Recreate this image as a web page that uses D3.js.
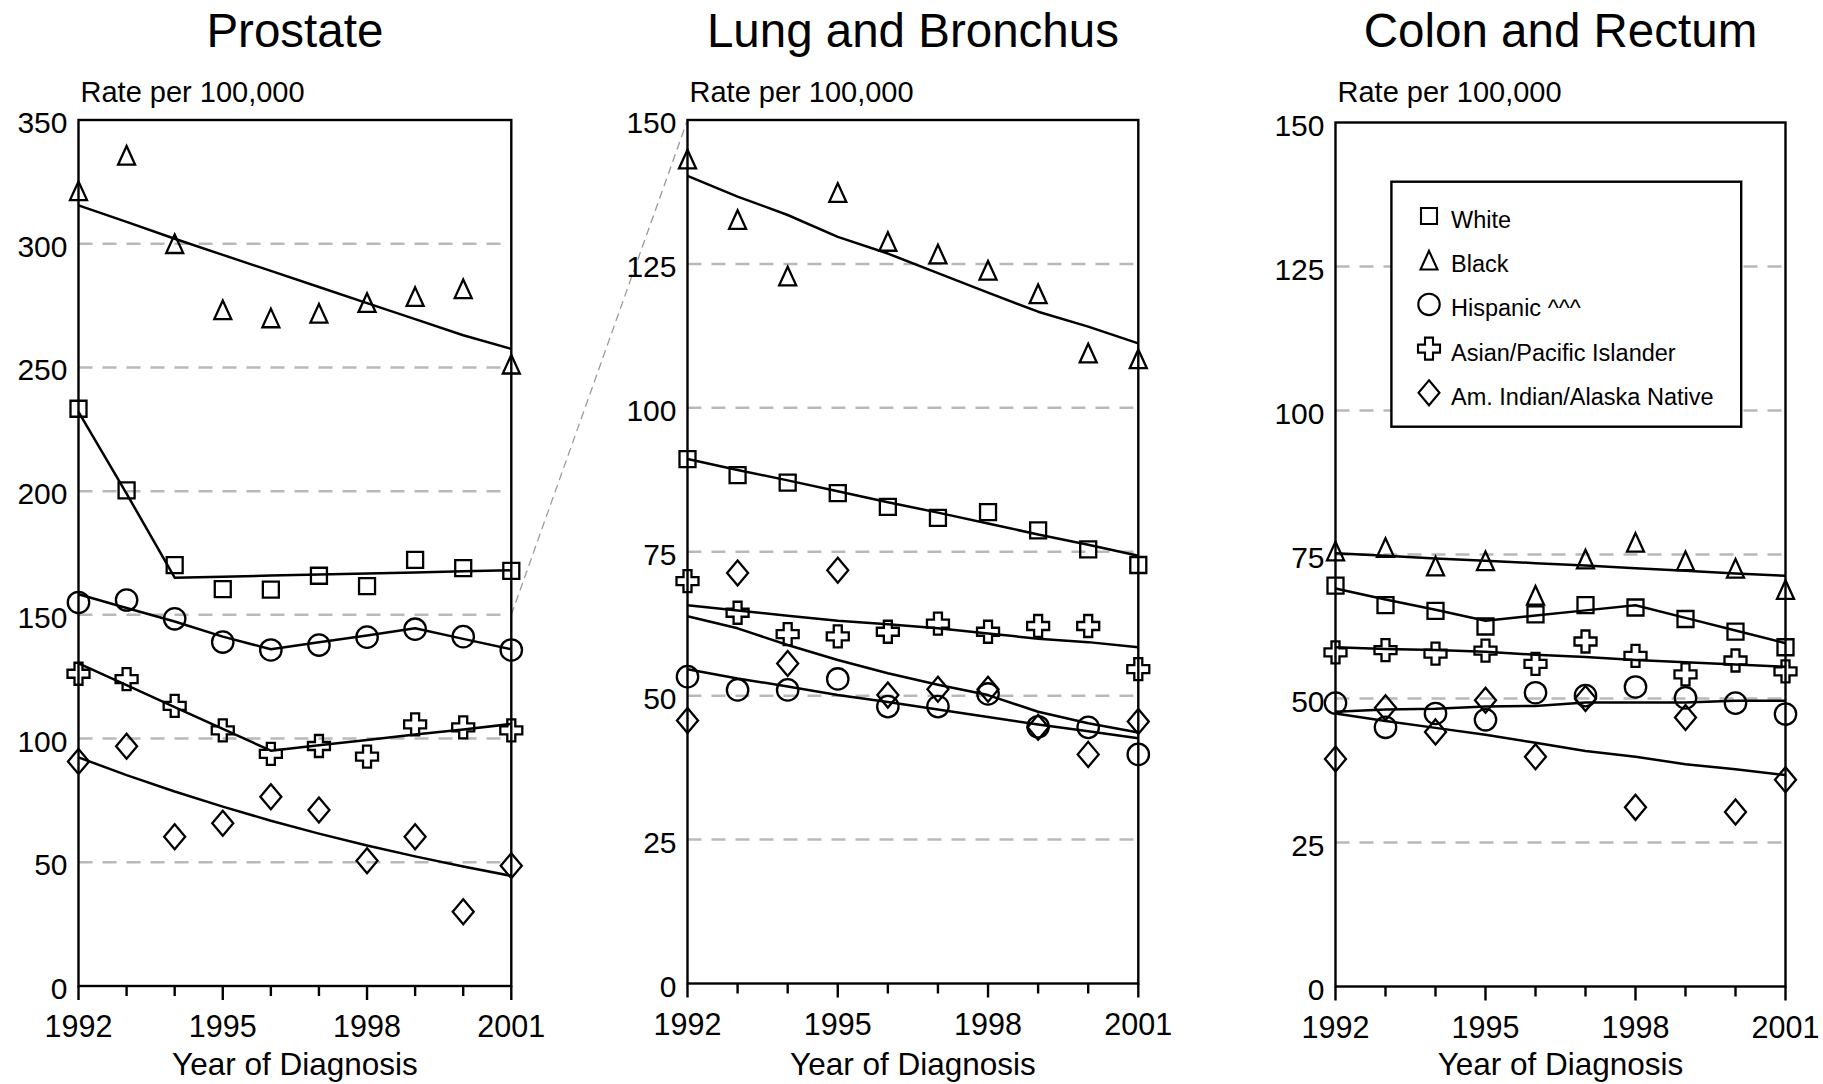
<!DOCTYPE html>
<html>
<head>
<meta charset="utf-8">
<script src="https://cdn.jsdelivr.net/npm/d3@7"></script>
<style>
  html, body { margin: 0; padding: 0; background: #fff; }
  svg { display: block; }
  text { font-family: "Liberation Sans", Arial, Helvetica, sans-serif; fill: #000; }
</style>
</head>
<body>
<svg id="chart" width="1823" height="1084"></svg>
<script>
// ---------------- DATA ----------------
const years = [1992, 1993, 1994, 1995, 1996, 1997, 1998, 1999, 2000, 2001];
const majorYears = [1992, 1995, 1998, 2001];
const panelTitles = ["Prostate", "Lung and Bronchus", "Colon and Rectum"];
const seriesNames = ["White", "Black", "Hispanic ^^^", "Asian/Pacific Islander", "Am. Indian/Alaska Native"];
const seriesSymbols = ["square", "triangle", "circle", "plus", "diamond"];
const prostateTicks = [0, 50, 100, 150, 200, 250, 300, 350];
const lungTicks = [0, 25, 50, 75, 100, 125, 150];
const colonTicks = [0, 25, 50, 75, 100, 125, 150];
const yAxisLabel = "Rate per 100,000";
const xAxisLabel = "Year of Diagnosis";

// Prostate: observed rates and fitted trends
const prostateWhite    = [233.3, 200.3, 170.1, 160.4, 160.2, 165.8, 161.6, 172.2, 168.9, 167.8];
const prostateWhiteFit = [232.0, 199.0, 165.0, 165.4, 165.9, 166.3, 166.7, 167.1, 167.6, 168.0];
const prostateBlack    = [321.4, 335.7, 300.0, 273.3, 270.0, 271.9, 276.2, 278.6, 281.8, 251.3];
const prostateBlackFit = [315.5, 308.8, 302.0, 295.5, 289.0, 282.5, 276.0, 269.5, 263.0, 257.5];
const prostateHisp     = [155.0, 156.0, 148.4, 139.0, 135.8, 137.8, 141.0, 144.2, 141.2, 135.8];
const prostateHispFit  = [158.3, 152.8, 147.3, 141.2, 136.1, 138.9, 141.7, 144.6, 140.3, 136.1];
const prostateAPI      = [126.2, 124.0, 113.2, 103.3, 93.8, 97.0, 92.7, 105.7, 104.5, 103.3];
const prostateAPIFit   = [130.4, 121.6, 112.7, 103.9, 95.1, 97.3, 99.4, 101.6, 103.7, 105.9];
const prostateAIAN     = [90.7, 96.9, 60.3, 65.8, 76.5, 71.1, 50.6, 60.3, 30.0, 48.6];
const prostateAIANFit  = [92.4, 85.2, 78.6, 72.5, 66.8, 61.6, 56.8, 52.4, 48.3, 44.5];

// Lung and Bronchus
const lungWhite    = [91.1, 88.3, 87.0, 85.2, 82.8, 80.9, 81.9, 78.7, 75.4, 72.7];
const lungWhiteFit = [91.1, 89.2, 87.4, 85.5, 83.6, 81.8, 79.9, 78.0, 76.2, 74.3];
const lungBlack    = [143.2, 132.7, 122.9, 137.4, 128.9, 126.7, 123.9, 119.8, 109.5, 108.5];
const lungBlackFit = [140.3, 136.7, 133.5, 129.7, 126.8, 123.4, 120.0, 116.7, 114.1, 111.2];
const lungHisp     = [53.3, 51.0, 51.0, 52.9, 48.1, 48.1, 50.3, 44.6, 44.5, 39.8];
const lungHispFit  = [54.6, 53.0, 51.6, 50.1, 48.9, 47.6, 46.3, 45.0, 43.8, 42.6];
const lungAPI      = [69.9, 64.4, 60.7, 60.3, 61.1, 62.5, 61.1, 62.1, 62.1, 54.6];
const lungAPIFit   = [65.7, 64.8, 63.9, 63.0, 62.4, 61.7, 60.8, 59.9, 59.3, 58.4];
const lungAIAN     = [45.7, 71.3, 55.6, 71.8, 50.1, 51.1, 51.1, 44.5, 39.8, 45.5];
const lungAIANFit  = [63.8, 61.7, 58.8, 56.2, 53.9, 51.9, 50.1, 47.2, 45.2, 43.6];

// Colon and Rectum
const colonWhite    = [69.6, 66.2, 65.2, 62.5, 64.6, 66.2, 65.8, 63.8, 61.6, 58.9];
const colonWhiteFit = [69.1, 67.2, 65.4, 63.5, 64.4, 65.3, 66.2, 64.0, 61.8, 59.6];
const colonBlack    = [75.6, 76.2, 73.0, 73.9, 67.9, 74.2, 77.1, 73.9, 72.6, 68.9];
const colonBlackFit = [75.2, 74.8, 74.3, 73.9, 73.5, 73.1, 72.6, 72.2, 71.7, 71.3];
const colonHisp     = [49.2, 45.0, 47.4, 46.3, 51.0, 50.5, 52.0, 50.1, 49.2, 47.3];
const colonHispFit  = [47.7, 48.1, 48.2, 48.6, 48.7, 49.3, 49.3, 49.3, 49.6, 49.6];
const colonAPI      = [58.0, 58.4, 57.8, 58.3, 56.0, 59.9, 57.4, 54.2, 56.6, 54.7];
const colonAPIFit   = [58.9, 58.6, 58.4, 58.1, 57.6, 57.2, 56.7, 56.3, 55.9, 55.5];
const colonAIAN     = [39.5, 48.4, 44.2, 49.7, 39.9, 50.0, 31.1, 46.7, 30.3, 35.9];
const colonAIANFit  = [47.4, 46.1, 44.9, 43.7, 42.3, 40.9, 39.9, 38.6, 37.7, 36.7];

// ---------------- LAYOUT ----------------
const svg = d3.select("#chart");

const panels = [
  { title: panelTitles[0], ticks: prostateTicks, x0: 78.5, x1: 511.3, yTop: 120, yBot: 986,
    obs: [prostateWhite, prostateBlack, prostateHisp, prostateAPI, prostateAIAN],
    fit: [prostateWhiteFit, prostateBlackFit, prostateHispFit, prostateAPIFit, prostateAIANFit] },
  { title: panelTitles[1], ticks: lungTicks, x0: 687.5, x1: 1138.3, yTop: 120, yBot: 983.5,
    obs: [lungWhite, lungBlack, lungHisp, lungAPI, lungAIAN],
    fit: [lungWhiteFit, lungBlackFit, lungHispFit, lungAPIFit, lungAIANFit] },
  { title: panelTitles[2], ticks: colonTicks, x0: 1335.5, x1: 1785.5, yTop: 122.5, yBot: 986.5,
    obs: [colonWhite, colonBlack, colonHisp, colonAPI, colonAIAN],
    fit: [colonWhiteFit, colonBlackFit, colonHispFit, colonAPIFit, colonAIANFit] }
];

panels.forEach(p => {
  p.x = d3.scaleLinear().domain([years[0], years[years.length - 1]]).range([p.x0, p.x1]);
  p.y = d3.scaleLinear().domain([0, d3.max(p.ticks)]).range([p.yBot, p.yTop]);
});

// marker shapes (drawn around 0,0)
function symbolPath(type, scale) {
  const s = scale || 1;
  const p = d3.path();
  if (type === "square") {
    const h = 8 * s;
    p.rect(-h, -h, 2 * h, 2 * h);
  } else if (type === "triangle") {
    const w = 8.5 * s, h = 9.3 * s;
    p.moveTo(0, -h); p.lineTo(w, h); p.lineTo(-w, h); p.closePath();
  } else if (type === "circle") {
    const r = 10.7 * s;
    p.moveTo(r, 0); p.arc(0, 0, r, 0, 2 * Math.PI);
  } else if (type === "diamond") {
    const w = 10.5 * s, h = 12.5 * s;
    p.moveTo(0, -h); p.lineTo(w, 0); p.lineTo(0, h); p.lineTo(-w, 0); p.closePath();
  } else if (type === "plus") {
    const b = 11 * s, a = 4 * s;
    p.moveTo(-a, -b); p.lineTo(a, -b); p.lineTo(a, -a); p.lineTo(b, -a); p.lineTo(b, a);
    p.lineTo(a, a); p.lineTo(a, b); p.lineTo(-a, b); p.lineTo(-a, a); p.lineTo(-b, a);
    p.lineTo(-b, -a); p.lineTo(-a, -a); p.closePath();
  }
  return p.toString();
}

// ---- gridlines ----
panels.forEach(p => {
  const g = svg.append("g");
  g.selectAll("line.grid")
    .data(p.ticks.filter(t => t > 0 && t < d3.max(p.ticks)))
    .join("line")
    .attr("x1", p.x0).attr("x2", p.x1)
    .attr("y1", d => p.y(d)).attr("y2", d => p.y(d))
    .attr("stroke", "#b9b9b9").attr("stroke-width", 2.5)
    .attr("stroke-dasharray", "14,10");
});

// ---- connector (zoom) line from prostate 150 to lung 150 ----
svg.append("line")
  .attr("x1", panels[0].x(years[years.length - 1])).attr("y1", panels[0].y(150))
  .attr("x2", panels[1].x(years[0])).attr("y2", panels[1].y(150))
  .attr("stroke", "#9a9a9a").attr("stroke-width", 1.3)
  .attr("stroke-dasharray", "8,5");

// ---- fitted lines and markers ----
panels.forEach(p => {
  const line = d3.line().x((d, i) => p.x(years[i])).y(d => p.y(d));
  const g = svg.append("g");
  p.fit.forEach(arr => {
    g.append("path").attr("d", line(arr))
      .attr("fill", "none").attr("stroke", "#000").attr("stroke-width", 2.5)
      .attr("stroke-linejoin", "round");
  });
  p.obs.forEach((arr, si) => {
    g.selectAll(null).data(arr).join("path")
      .attr("transform", (d, i) => `translate(${p.x(years[i])},${p.y(d)})`)
      .attr("d", symbolPath(seriesSymbols[si]))
      .attr("fill", "none").attr("stroke", "#000").attr("stroke-width", 2.3);
  });
});

// ---- frames, ticks, labels ----
panels.forEach(p => {
  const g = svg.append("g");
  g.append("rect")
    .attr("x", p.x0).attr("y", p.yTop)
    .attr("width", p.x1 - p.x0).attr("height", p.yBot - p.yTop)
    .attr("fill", "none").attr("stroke", "#000").attr("stroke-width", 2.4);

  // x ticks
  g.selectAll("line.xt").data(years).join("line")
    .attr("x1", d => p.x(d)).attr("x2", d => p.x(d))
    .attr("y1", p.yBot)
    .attr("y2", d => p.yBot + (majorYears.includes(d) ? 14 : 10))
    .attr("stroke", "#000").attr("stroke-width", 2.4);

  // x tick labels
  g.selectAll("text.xl").data(majorYears).join("text")
    .attr("x", d => p.x(d)).attr("y", p.yBot + 51)
    .attr("text-anchor", "middle").attr("font-size", 30.5)
    .text(d => String(d));

  // y tick labels
  g.selectAll("text.yl").data(p.ticks).join("text")
    .attr("x", p.x0 - 11).attr("y", d => p.y(d) + 13)
    .attr("text-anchor", "end").attr("font-size", 30)
    .text(d => String(d));

  // y-axis label
  g.append("text").attr("x", p.x0 + 2).attr("y", 102)
    .attr("font-size", 29).text(yAxisLabel);

  // x-axis title
  g.append("text").attr("x", (p.x0 + p.x1) / 2).attr("y", 1075)
    .attr("text-anchor", "middle").attr("font-size", 31.5).text(xAxisLabel);

  // panel title
  g.append("text").attr("x", (p.x0 + p.x1) / 2).attr("y", 47)
    .attr("text-anchor", "middle").attr("font-size", 47.5).text(p.title);
});

// ---- legend (in colon panel) ----
const leg = svg.append("g");
leg.append("rect")
  .attr("x", 1391.4).attr("y", 181.7).attr("width", 349.8).attr("height", 245)
  .attr("fill", "#fff").attr("stroke", "#000").attr("stroke-width", 2.4);
const legRows = leg.selectAll("g.row").data(seriesNames).join("g")
  .attr("transform", (d, i) => `translate(1429,${216 + i * 44.2})`);
legRows.append("path")
  .attr("d", (d, i) => symbolPath(seriesSymbols[i], 1.0))
  .attr("fill", "none").attr("stroke", "#000").attr("stroke-width", 2.1);
legRows.append("text")
  .attr("x", 22).attr("y", 12).attr("font-size", 23.5)
  .text(d => d);
</script>
</body>
</html>
